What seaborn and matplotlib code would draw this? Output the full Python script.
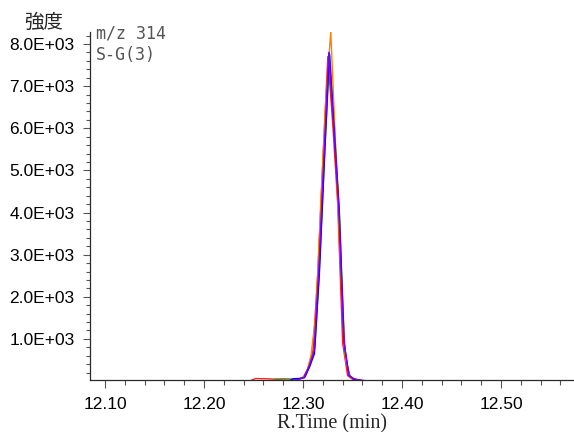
import pandas as pd
import numpy as np
import matplotlib
matplotlib.use('Agg')
import matplotlib.pyplot as plt
from matplotlib.ticker import MultipleLocator, FuncFormatter
import seaborn as sns

# chromatogram traces, m/z 314, five overlaid runs
red_t = [12.080, 12.246, 12.252, 12.260, 12.268, 12.276, 12.286, 12.295, 12.300, 12.305,
         12.310, 12.315, 12.320, 12.325, 12.330, 12.335, 12.340, 12.345, 12.350, 12.360, 12.580]
red_v = [0, 0, 60, 55, 50, 30, 20, 40, 80, 300, 720, 2600, 5200, 7700, 6100, 4200, 900, 130, 40, 0, 0]

green_t = [12.080, 12.268, 12.272, 12.280, 12.288, 12.297, 12.302, 12.307, 12.312, 12.317,
           12.322, 12.327, 12.332, 12.337, 12.342, 12.347, 12.352, 12.362, 12.580]
green_v = [0, 0, 50, 55, 50, 60, 110, 380, 800, 2900, 5500, 7750, 5900, 3900, 700, 110, 40, 0, 0]

orange_t = [12.080, 12.283, 12.293, 12.298, 12.303, 12.308, 12.313, 12.318, 12.323, 12.328,
            12.333, 12.338, 12.343, 12.348, 12.353, 12.363, 12.580]
orange_v = [0, 0, 30, 60, 150, 600, 1600, 4300, 6700, 8290, 5500, 2700, 500, 80, 30, 0, 0]

blue_t = [12.080, 12.286, 12.290, 12.296, 12.3015, 12.3065, 12.3115, 12.3165, 12.3215, 12.3265,
          12.3315, 12.3365, 12.3415, 12.3465, 12.3515, 12.362, 12.580]
blue_v = [0, 0, 55, 60, 80, 330, 650, 2550, 5200, 7780, 5950, 4050, 900, 130, 40, 0, 0]

purple_t = [12.080, 12.286, 12.291, 12.296, 12.301, 12.306, 12.311, 12.316, 12.321, 12.326,
            12.331, 12.336, 12.341, 12.346, 12.351, 12.356, 12.366, 12.580]
purple_v = [0, 0, 20, 40, 90, 350, 700, 2700, 5300, 7800, 6000, 4150, 1000, 150, 60, 30, 0, 0]

series = [('red', red_t, red_v), ('green', green_t, green_v), ('orange', orange_t, orange_v),
          ('blue', blue_t, blue_v), ('purple', purple_t, purple_v)]
colors = {'red': '#ff2020', 'green': '#5f8f2f', 'orange': '#ff8000',
          'blue': '#0000ff', 'purple': '#8000ff'}

rows = []
for name, t, v in series:
    for a, b in zip(t, v):
        rows.append((name, a, b))
df = pd.DataFrame(rows, columns=['run', 'time', 'intensity'])

sns.set_style('ticks')
plt.rcParams['font.family'] = ['Liberation Sans', 'DejaVu Sans']

fig = plt.figure(figsize=(5.74, 4.32), dpi=100)
ax = fig.add_axes([90 / 574, 52 / 432, 484 / 574, 348 / 432])

sns.lineplot(data=df, x='time', y='intensity', hue='run', palette=colors,
             estimator=None, sort=False, linewidth=1.0, legend=False, ax=ax)

ax.set_xlim(12.0848, 12.5737)
ax.set_ylim(25, 8285)

ax.xaxis.set_major_locator(MultipleLocator(0.1))
ax.xaxis.set_minor_locator(MultipleLocator(0.02))
ax.yaxis.set_major_locator(MultipleLocator(1000))
ax.yaxis.set_minor_locator(MultipleLocator(200))
ax.xaxis.set_major_formatter(FuncFormatter(lambda x, p: f'{x:.2f}'))
ax.yaxis.set_major_formatter(FuncFormatter(lambda y, p: f'{y:.1E}'))

ax.tick_params(axis='both', which='major', labelsize=12.5, color='#555555',
               width=0.8, labelcolor='black')
ax.tick_params(axis='x', which='major', length=6, pad=6)
ax.tick_params(axis='y', which='major', length=5, pad=6)
ax.tick_params(axis='x', which='minor', length=3.5, color='#555555', width=0.8)
ax.tick_params(axis='y', which='minor', length=3, color='#555555', width=0.8)

sns.despine(ax=ax, top=True, right=True)
for s in ['left', 'bottom']:
    ax.spines[s].set_color('#2a2a2a')
    ax.spines[s].set_linewidth(0.9)

ax.set_xlabel('R.Time (min)', family='Liberation Serif', fontsize=14.5, labelpad=1.5)
ax.set_ylabel('')

fig.text(44 / 574, 1 - 22 / 432, '強度', family=['Noto Sans CJK JP', 'DejaVu Sans'],
         fontsize=14, ha='center', va='center')
fig.text(96 / 574, 1 - 25 / 432, 'm/z 314\nS-G(3)', family='DejaVu Sans Mono',
         fontsize=12, color='#555555', ha='left', va='top', linespacing=1.2)

fig.savefig('out.png', dpi=100)
